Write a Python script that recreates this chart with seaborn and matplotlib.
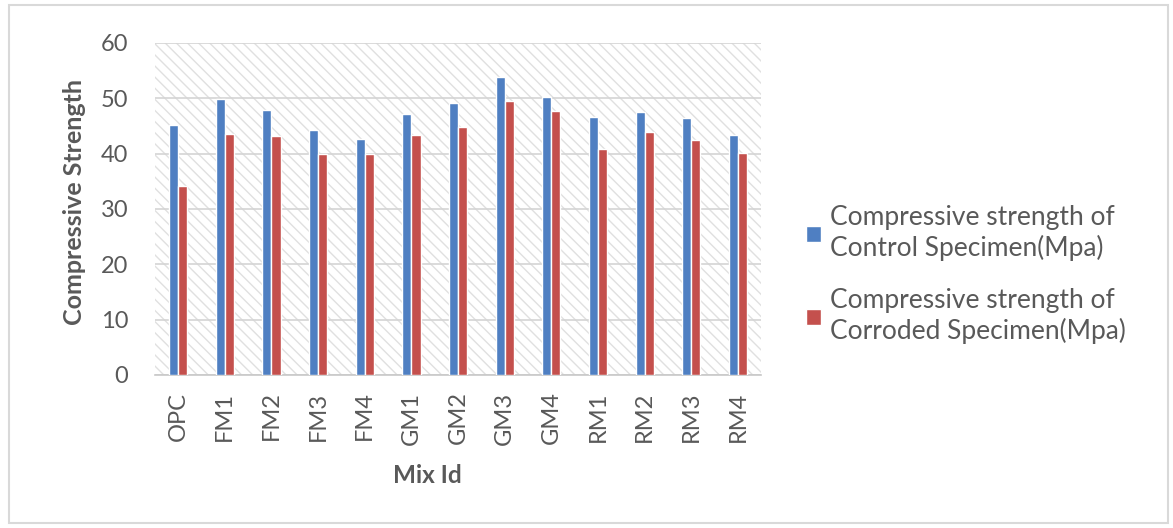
import matplotlib
matplotlib.use("Agg")
import matplotlib.pyplot as plt
from matplotlib.patches import Rectangle
import pandas as pd
import seaborn as sns

mixes = ["OPC", "FM1", "FM2", "FM3", "FM4", "GM1", "GM2", "GM3", "GM4",
         "RM1", "RM2", "RM3", "RM4"]
control = [45.2, 49.9, 47.9, 44.2, 42.6, 47.1, 49.2, 53.8, 50.3, 46.6, 47.6, 46.4, 43.3]
corroded = [34.2, 43.6, 43.1, 39.9, 39.9, 43.3, 44.9, 49.6, 47.7, 40.9, 43.9, 42.4, 40.1]
series_names = ["Compressive strength of\nControl Specimen(Mpa)",
                "Compressive strength of\nCorroded Specimen(Mpa)"]
yticks = [0, 10, 20, 30, 40, 50, 60]

df = pd.DataFrame({
    "Mix": mixes * 2,
    "Strength": control + corroded,
    "Series": [series_names[0]] * len(mixes) + [series_names[1]] * len(mixes),
})

sns.set_theme(style="white")
plt.rcParams["font.family"] = ["Lato", "DejaVu Sans"]
text_color = "#595959"

fig = plt.figure(figsize=(11.73, 5.28), dpi=100)
ax = fig.add_axes([0.132, 0.290, 0.517, 0.6286])

# diagonal hatched plot background
plt.rcParams["hatch.linewidth"] = 1.0
bg = Rectangle((0, 0), 1, 1, transform=ax.transAxes, facecolor="white",
               edgecolor="#e0e0e0", hatch="\\\\\\", lw=0, zorder=0)
ax.add_patch(bg)

sns.barplot(data=df, x="Mix", y="Strength", hue="Series",
            palette=["#4F7FC2", "#C4504D"], width=0.39, gap=0,
            saturation=1, ax=ax, zorder=3, legend=True)

ax.set_ylim(0, 60)
ax.set_yticks(yticks)
ax.set_xlim(-0.5, len(mixes) - 0.5)
ax.yaxis.grid(True, color="#d4d4d4", lw=1.2, zorder=1)
ax.set_axisbelow(True)
for s in ["left", "right", "top"]:
    ax.spines[s].set_visible(False)
ax.spines["bottom"].set_color("#c8c8c8")
ax.spines["bottom"].set_linewidth(1.2)

ax.tick_params(axis="both", length=0, colors=text_color, labelsize=17)
ax.tick_params(axis="x", pad=12)
ax.tick_params(axis="y", pad=19)
plt.setp(ax.get_xticklabels(), rotation=90)

ax.set_xlabel("Mix Id", fontsize=17.5, fontweight="bold", color=text_color)
ax.xaxis.set_label_coords(0.449, -0.27)
ax.set_ylabel("Compressive Strength", fontsize=18, fontweight="bold",
              color=text_color)
ax.yaxis.set_label_coords(-0.114, 0.52)

handles, labels = ax.get_legend_handles_labels()
ax.get_legend().remove()
leg = fig.legend(handles, labels, loc="center left", bbox_to_anchor=(0.667, 0.48),
                 frameon=False, fontsize=19, handlelength=0.55, handleheight=0.55,
                 handletextpad=0.35, labelspacing=1.05, labelcolor=text_color)

# light border around the whole chart
fig.patches.append(Rectangle((9 / 1173, 5 / 528), 1159 / 1173, 518 / 528,
                             transform=fig.transFigure, fill=False,
                             edgecolor="#d9d9d9", lw=1.5))

fig.savefig("out.png", dpi=100, facecolor="white")
